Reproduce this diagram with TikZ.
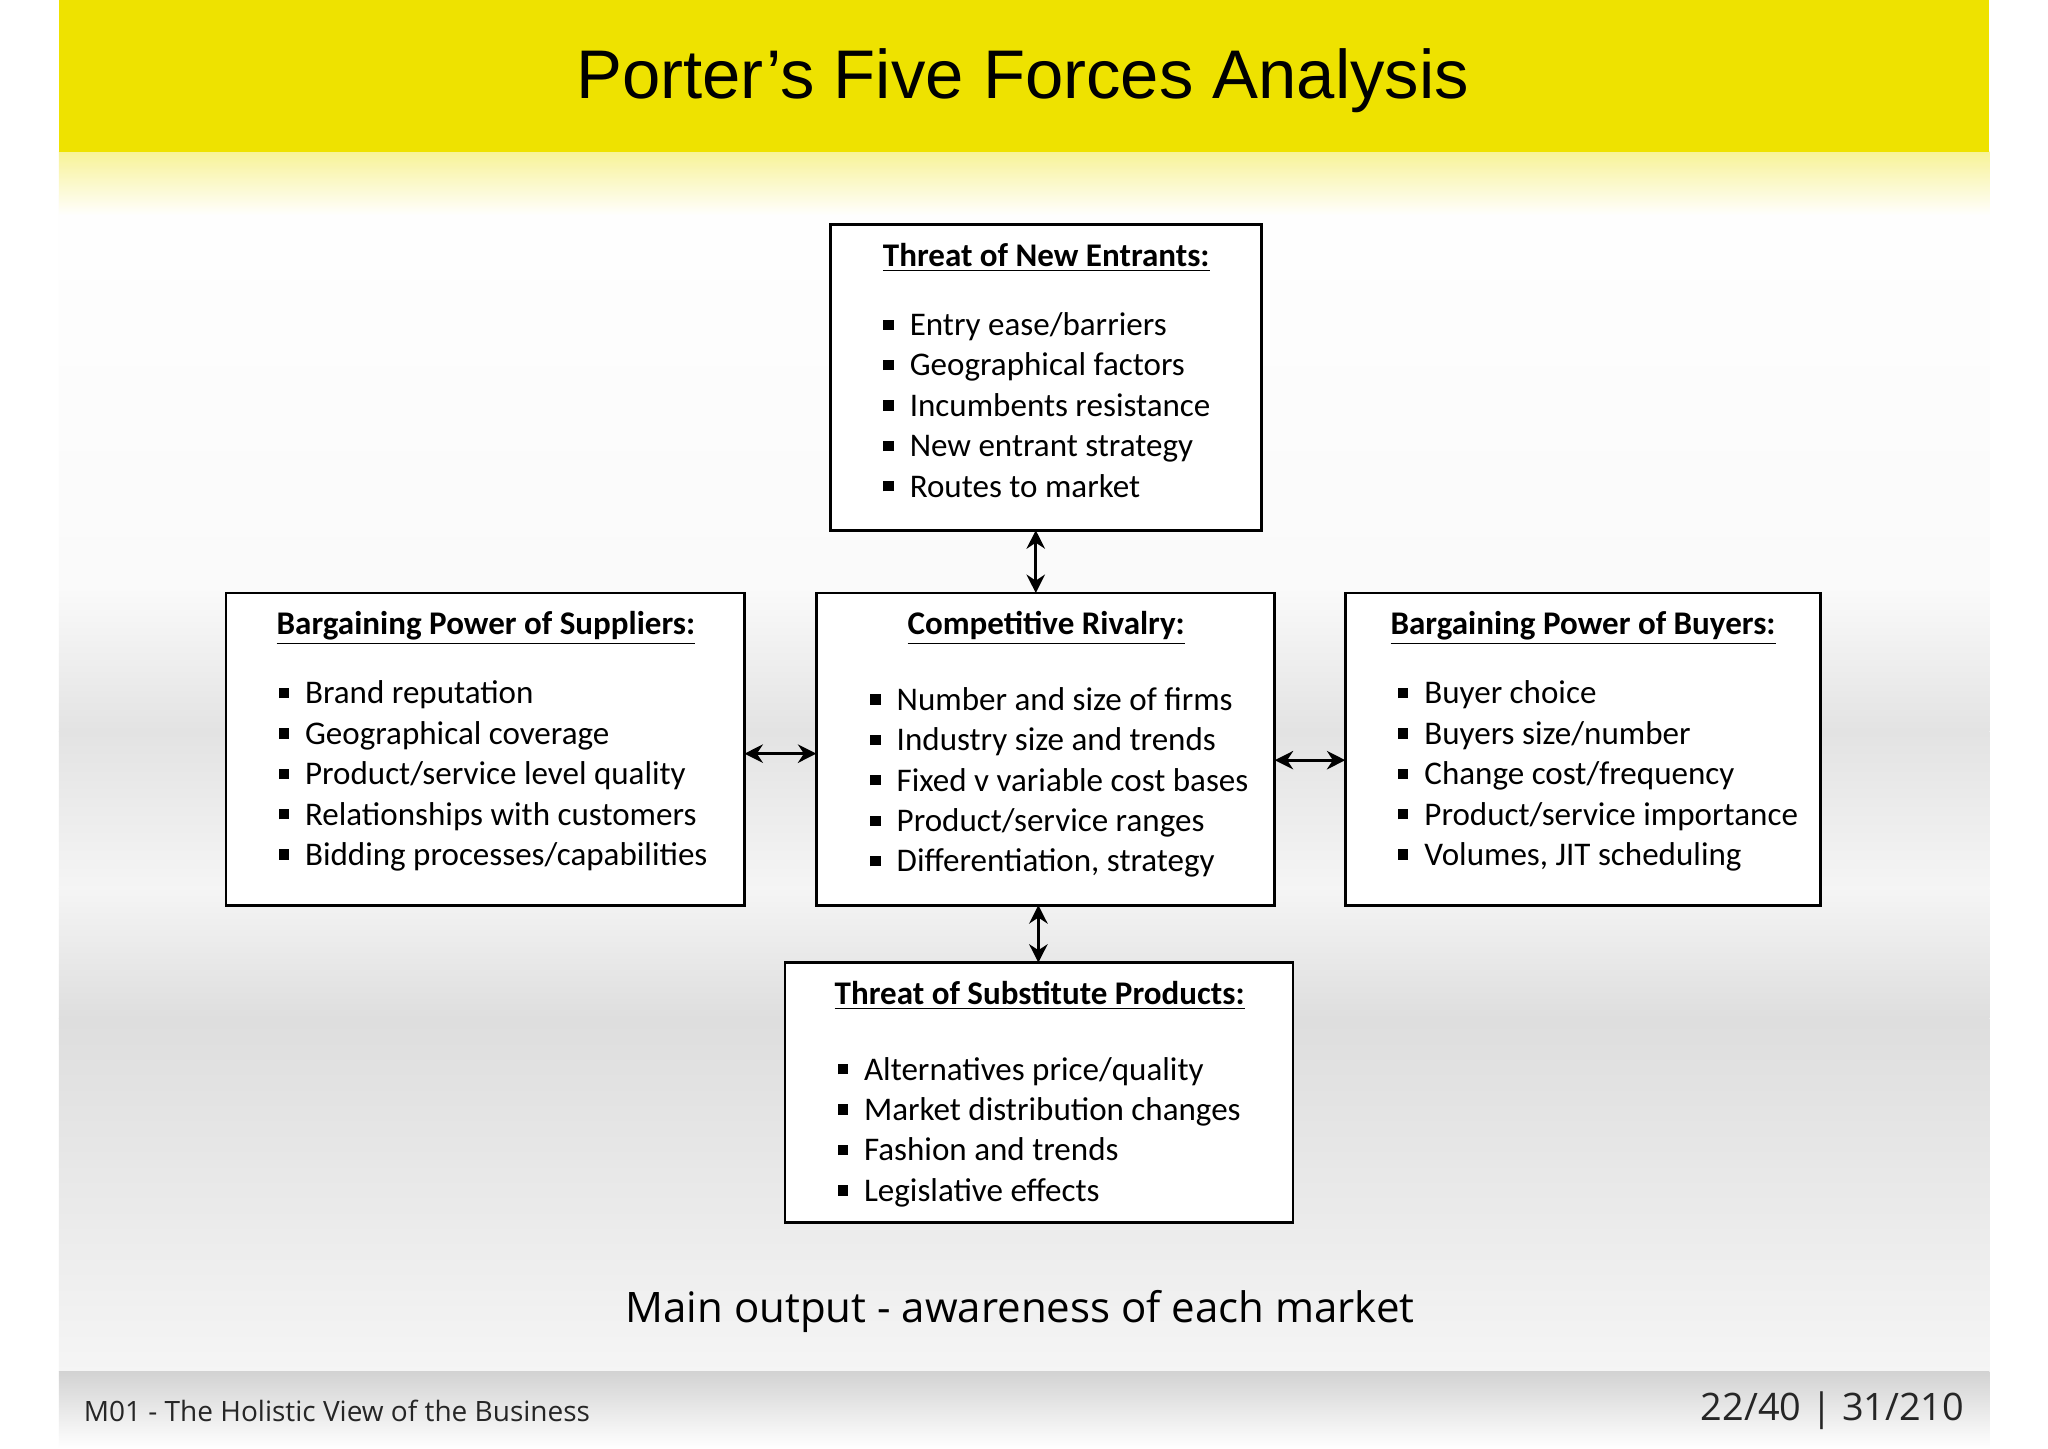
\documentclass[tikz,border=0pt]{standalone}
\usepackage{fontspec}
\setmainfont{Open Sans}
\newfontfamily\boxfont{Carlito}
\newfontfamily\headfont{Liberation Sans}
\usetikzlibrary{arrows.meta}
\definecolor{ptyellow}{RGB}{238,226,0}
\newcommand{\bul}{\rule[2.5pt]{4.5pt}{4.5pt}\hspace{7pt}}
\tikzset{
  forcebox/.style={draw=black, line width=1.2pt, fill=white},
  boxtext/.style={anchor=north west, align=left, inner sep=0pt, font=\boxfont\fontsize{14.4}{17.6}\selectfont},
  boxtitle/.style={anchor=north, inner sep=0pt, font=\boxfont\bfseries\fontsize{14.4}{16}\selectfont},
  biarrow/.style={{Stealth[length=8pt,width=8pt]}-{Stealth[length=8pt,width=8pt]}, line width=1.4pt}
}
\begin{document}
\begin{tikzpicture}[x=0.02cm,y=-0.02cm]
\useasboundingbox (0,0) rectangle (1568,1109);
\fill[white] (0,0) rectangle (1568,1109);
\shade[top color=white, bottom color=gray!4] (45,116) rectangle (1523,450);
\shade[top color=gray!4, bottom color=gray!22] (45,450) rectangle (1523,560);
\shade[top color=gray!22, bottom color=gray!8] (45,560) rectangle (1523,680);
\shade[top color=gray!8, bottom color=gray!26] (45,680) rectangle (1523,780);
\shade[top color=gray!26, bottom color=gray!8] (45,780) rectangle (1523,1050);
\shade[top color=gray!35, bottom color=white] (45,1050) rectangle (1523,1109);
\shade[top color=ptyellow!45, bottom color=white, opacity=0.9] (45,116) rectangle (1523,165);
\fill[ptyellow] (45,0) rectangle (1523,116);
\node[font=\headfont\fontsize{30}{34}\selectfont] (title) at (783,62) {Porter’s Five Forces Analysis};

\draw[forcebox] (636,172) rectangle (966,406);
\node[boxtitle] (t1) at (801,186) {\underline{Threat of New Entrants:}};
\node[boxtext] (b1) at (676,239) {\bul Entry ease/barriers\\ \bul Geographical factors\\ \bul Incumbents resistance\\ \bul New entrant strategy\\ \bul Routes to market};

\draw[forcebox] (173,454) rectangle (570,693);
\node[boxtitle] (t2) at (372,468) {\underline{Bargaining Power of Suppliers:}};
\node[boxtext] (b2) at (213,521) {\bul Brand reputation\\ \bul Geographical coverage\\ \bul Product/service level quality\\ \bul Relationships with customers\\ \bul Bidding processes/capabilities};

\draw[forcebox] (625,454) rectangle (976,693);
\node[boxtitle] (t3) at (801,468) {\underline{Competitive Rivalry:}};
\node[boxtext] (b3) at (666,526) {\bul Number and size of firms\\ \bul Industry size and trends\\ \bul Fixed v variable cost bases\\ \bul Product/service ranges\\ \bul Differentiation, strategy};

\draw[forcebox] (1030,454) rectangle (1394,693);
\node[boxtitle] (t4) at (1212,468) {\underline{Bargaining Power of Buyers:}};
\node[boxtext] (b4) at (1070,521) {\bul Buyer choice\\ \bul Buyers size/number\\ \bul Change cost/frequency\\ \bul Product/service importance\\ \bul Volumes, JIT scheduling};

\draw[forcebox] (601,737) rectangle (990,936);
\node[boxtitle] (t5) at (796,751) {\underline{Threat of Substitute Products:}};
\node[boxtext] (b5) at (641,809) {\bul Alternatives price/quality\\ \bul Market distribution changes\\ \bul Fashion and trends\\ \bul Legislative effects};

\coordinate (a1) at (793,406); \coordinate (a2) at (793,454);
\coordinate (a3) at (795,693); \coordinate (a4) at (795,737);
\coordinate (a5) at (570,577); \coordinate (a6) at (625,577);
\coordinate (a7) at (976,582); \coordinate (a8) at (1030,582);
\draw[biarrow] (a1) -- (a2);
\draw[biarrow] (a3) -- (a4);
\draw[biarrow] (a5) -- (a6);
\draw[biarrow] (a7) -- (a8);

\node[font=\fontsize{18.3}{21}\selectfont] (out) at (781,1004) {Main output - awareness of each market};
\node[anchor=west, font=\fontsize{12.2}{14}\selectfont, text=black!85] (foot1) at (58,1080) {M01 - The Holistic View of the Business};
\node[anchor=east, font=\fontsize{16.5}{18}\selectfont, text=black!85] (foot2) at (1510,1080) {22/40 | 31/210};
\end{tikzpicture}
\end{document}
